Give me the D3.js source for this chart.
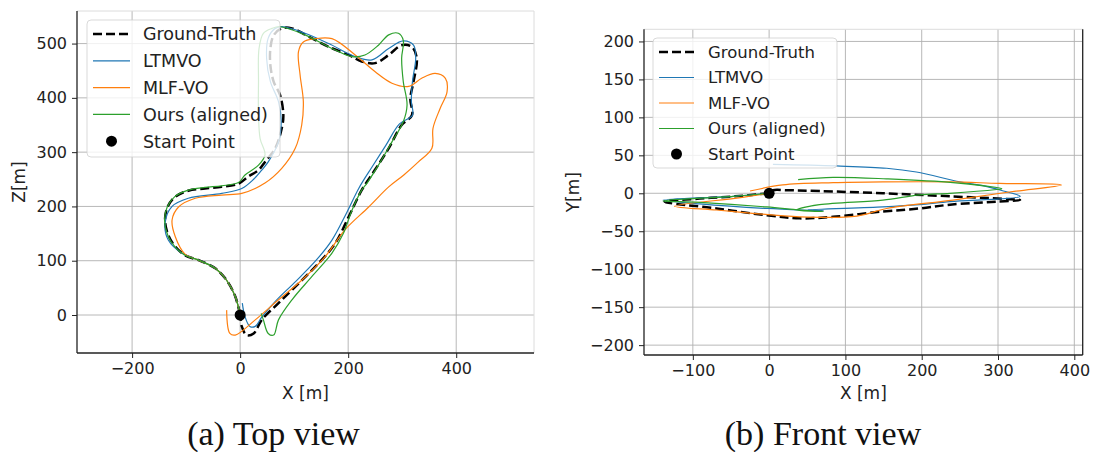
<!DOCTYPE html>
<html>
<head>
<meta charset="utf-8">
<script src="https://cdn.jsdelivr.net/npm/d3@7"></script>
<style>
  body { margin: 0; background: #fff; }
  svg text { font-family: "DejaVu Sans", sans-serif; fill: #222; }
</style>
</head>
<body>
<svg id="chart" width="1098" height="452"></svg>
<script>
// ---- series definitions ----
const seriesNames  = ["Ground-Truth", "LTMVO", "MLF-VO", "Ours (aligned)"];
const seriesColors = ["#000000", "#1f77b4", "#ff7f0e", "#2ca02c"];
const startPoint = [0, 0];

// ---- top view: [X, Z] in metres ----
const topGroundTruth = [
  [0,0],[-9,34],[-25,64],[-46,86],[-77,101],[-102,110],[-120,126],[-133,147],[-139,175],
  [-134,200],[-120,218],[-96,229],[-65,233],[-34,236],[-3,242],[15,255],[34,267],[46,282],
  [65,307],[77,344],[80,368],[74,405],[62,430],[56,460],[56,491],[62,515],[77,528],[96,528],
  [127,513],[164,494],[201,479],[225,467],[250,464],[275,479],[299,497],[318,494],[327,473],
  [321,430],[315,399],[318,368],[299,350],[275,307],[250,268],[225,230],[201,181],[176,132],
  [145,95],[108,58],[71,22],[40,-9],[25,-34],[12,-37],[3,-21],[1,-5]
];
const topLTMVO = [
  [0,0],[-9,34],[-25,64],[-46,86],[-77,101],[-108,114],[-133,138],[-139,169],[-126,200],
  [-96,215],[-34,224],[3,233],[25,250],[40,267],[52,282],[71,319],[76,356],[71,393],[56,430],
  [49,473],[52,510],[65,528],[80,531],[120,519],[164,500],[213,476],[244,470],[275,491],
  [302,505],[321,497],[325,473],[319,430],[317,393],[319,368],[295,352],[270,313],[245,274],
  [220,234],[197,188],[170,138],[140,100],[103,62],[66,26],[40,-4],[28,-21],[18,-21],[9,-3],[4,22]
];
const topMLFVO = [
  [0,0],[-9,34],[-25,64],[-46,86],[-77,101],[-102,112],[-120,144],[-126,175],[-114,199],
  [-83,215],[-34,221],[3,224],[46,243],[77,270],[102,307],[114,350],[117,393],[111,442],
  [108,485],[117,503],[139,509],[170,509],[213,479],[250,448],[281,427],[312,421],[336,436],
  [361,445],[380,436],[383,411],[370,380],[357,344],[355,307],[330,282],[303,258],[275,236],
  [238,199],[194,157],[157,107],[114,64],[71,28],[28,-9],[-9,-37],[-19,-34],[-25,9]
];
const topOurs = [
  [0,0],[-9,34],[-25,64],[-46,86],[-77,101],[-102,110],[-121,126],[-134,147],[-140,175],
  [-135,199],[-121,218],[-96,230],[-65,235],[-34,238],[-3,244],[9,258],[34,276],[46,295],
  [37,325],[34,368],[34,430],[35,491],[43,519],[59,528],[74,531],[120,516],[170,491],[207,476],
  [231,479],[256,497],[275,516],[293,519],[302,506],[299,473],[302,430],[309,387],[302,356],
  [281,319],[256,276],[235,243],[225,230],[207,193],[191,150],[170,114],[133,71],[96,28],
  [71,-9],[62,-37],[52,-34],[43,-9],[39,3]
];

// ---- front view: [X, Y] in metres ----
const frontGroundTruth = [
  [0,0],[-45,-4],[-91,-7],[-137,-11],[-69,-20],[-3,-29],[40,-33],[84,-31],[149,-24],
  [197,-20],[237,-15],[298,-11],[329,-9],[237,-4],[149,0],[66,3],[23,4],[5,4],[0,0]
];
const frontLTMVO = [
  [0,0],[-47,-4],[-139,-9],[-91,-14],[-3,-20],[71,-23],[50,-22],[149,-18],[197,-15],
  [237,-11],[329,-4],[307,3],[280,10],[250,15],[193,28],[154,33],[88,36],[5,38]
];
const frontMLFVO = [
  [0,0],[-40,-6],[-124,-17],[-69,-22],[-25,-26],[40,-31],[115,-30],[154,-20],[241,-9],
  [317,2],[383,11],[302,13],[237,15],[149,15],[84,14],[18,11],[-25,3]
];
const frontOurs = [
  [0,0],[-47,-4],[-139,-10],[-91,-12],[-3,-18],[40,-22],[71,-24],[36,-22],[66,-15],
  [149,-9],[197,-2],[237,0],[298,5],[305,6],[241,14],[154,19],[84,21],[38,18]
];

// ---- tick values ----
const topXTicks = [-200, 0, 200, 400];
const topZTicks = [0, 100, 200, 300, 400, 500];
const frontXTicks = [-100, 0, 100, 200, 300, 400];
const frontYTicks = [-200, -150, -100, -50, 0, 50, 100, 150, 200];

// ---- panel layout ----
const panels = [
  {
    id: "top", series: [topGroundTruth, topLTMVO, topMLFVO, topOurs],
    xDomain: [-302, 544], yDomain: [-70, 560],
    left: 77, right: 534, top: 11, bottom: 353,
    xTicks: topXTicks, yTicks: topZTicks,
    xLabel: "X [m]", yLabel: "Z[m]", yLabelX: 19,
    darkRight: false,
    legend: { x: 87, y: 20, w: 193, h: 137, row0: 34, rowStep: 26.8, hx0: 93, hx1: 130, tx: 143, fs: 17.5 },
    caption: "(a) Top view", captionX: 273.5
  },
  {
    id: "front", series: [frontGroundTruth, frontLTMVO, frontMLFVO, frontOurs],
    xDomain: [-164, 411], yDomain: [-213, 216],
    left: 644, right: 1082.7, top: 29.3, bottom: 355,
    xTicks: frontXTicks, yTicks: frontYTicks,
    xLabel: "X [m]", yLabel: "Y[m]", yLabelX: 573,
    darkRight: true,
    legend: { x: 653, y: 38, w: 184, h: 130, row0: 52, rowStep: 25.5, hx0: 659, hx1: 694, tx: 708, fs: 16.5 },
    caption: "(b) Front view", captionX: 823
  }
];

const svg = d3.select("#chart");
svg.append("rect").attr("width", 1098).attr("height", 452).attr("fill", "#fff");

const fmt = d => (d < 0 ? "\u2212" + Math.abs(d) : String(d));

panels.forEach(p => {
  const x = d3.scaleLinear().domain(p.xDomain).range([p.left, p.right]);
  const y = d3.scaleLinear().domain(p.yDomain).range([p.bottom, p.top]);
  const g = svg.append("g");

  // grid
  g.append("g").selectAll("line").data(p.xTicks).join("line")
    .attr("x1", d => x(d)).attr("x2", d => x(d))
    .attr("y1", p.top).attr("y2", p.bottom)
    .attr("stroke", "#b0b0b0").attr("stroke-width", 0.9);
  g.append("g").selectAll("line").data(p.yTicks).join("line")
    .attr("y1", d => y(d)).attr("y2", d => y(d))
    .attr("x1", p.left).attr("x2", p.right)
    .attr("stroke", "#b0b0b0").attr("stroke-width", 0.9);

  // clip region for trajectories
  const clipId = "clip-" + p.id;
  svg.append("clipPath").attr("id", clipId).append("rect")
    .attr("x", p.left).attr("y", p.top)
    .attr("width", p.right - p.left).attr("height", p.bottom - p.top);

  const line = d3.line().x(d => x(d[0])).y(d => y(d[1])).curve(d3.curveCatmullRom.alpha(0.5));
  const plot = g.append("g").attr("clip-path", `url(#${clipId})`);

  p.series.forEach((pts, i) => {
    plot.append("path").datum(pts)
      .attr("d", line)
      .attr("fill", "none")
      .attr("stroke", seriesColors[i])
      .attr("stroke-width", i === 0 ? 2.5 : 1.2)
      .attr("stroke-dasharray", i === 0 ? "9,4" : null)
      .attr("stroke-linejoin", "round");
  });

  plot.append("circle")
    .attr("cx", x(startPoint[0])).attr("cy", y(startPoint[1])).attr("r", 5.5)
    .attr("fill", "#000");

  // spines
  g.append("line").attr("x1", p.left).attr("x2", p.right).attr("y1", p.top).attr("y2", p.top)
    .attr("stroke", "#dcdcdc").attr("stroke-width", 1);
  g.append("line").attr("x1", p.right).attr("x2", p.right).attr("y1", p.top).attr("y2", p.bottom)
    .attr("stroke", p.darkRight ? "#222" : "#dcdcdc").attr("stroke-width", p.darkRight ? 1.3 : 1);

  // axes
  const xAxis = d3.axisBottom(x).tickValues(p.xTicks).tickFormat(fmt).tickSize(5).tickPadding(5);
  const yAxis = d3.axisLeft(y).tickValues(p.yTicks).tickFormat(fmt).tickSize(5).tickPadding(5);
  const gx = g.append("g").attr("transform", `translate(0,${p.bottom})`).call(xAxis);
  const gy = g.append("g").attr("transform", `translate(${p.left},0)`).call(yAxis);
  [gx, gy].forEach(a => {
    a.select(".domain").attr("stroke", "#222").attr("stroke-width", 1.3);
    a.selectAll(".tick line").attr("stroke", "#222").attr("stroke-width", 1);
    a.selectAll(".tick text").attr("font-size", 16).attr("fill", "#222")
      .attr("font-family", "DejaVu Sans, sans-serif");
  });
  gx.select(".domain").attr("d", `M${p.left},0H${p.right}`);
  gy.select(".domain").attr("d", `M0,${p.bottom}V${p.top}`);

  // axis labels
  g.append("text").attr("x", (p.left + p.right) / 2).attr("y", 399)
    .attr("text-anchor", "middle").attr("font-size", 17).text(p.xLabel);
  const yc = (p.top + p.bottom) / 2;
  g.append("text").attr("transform", `translate(${p.yLabelX + 6},${yc}) rotate(-90)`)
    .attr("text-anchor", "middle").attr("font-size", 17).text(p.yLabel);

  // legend
  const L = p.legend;
  const lg = g.append("g");
  lg.append("rect").attr("x", L.x).attr("y", L.y).attr("width", L.w).attr("height", L.h)
    .attr("rx", 4).attr("fill", "#fff").attr("fill-opacity", 0.8)
    .attr("stroke", "#d0d0d0").attr("stroke-opacity", 0.8);
  const entries = seriesNames.concat(["Start Point"]);
  entries.forEach((name, i) => {
    const ry = L.row0 + i * L.rowStep;
    if (i < seriesNames.length) {
      lg.append("line").attr("x1", L.hx0).attr("x2", L.hx1).attr("y1", ry).attr("y2", ry)
        .attr("stroke", seriesColors[i]).attr("stroke-width", i === 0 ? 2.5 : 1.2)
        .attr("stroke-dasharray", i === 0 ? "9,4" : null);
    } else {
      lg.append("circle").attr("cx", (L.hx0 + L.hx1) / 2).attr("cy", ry).attr("r", 5.5).attr("fill", "#000");
    }
    lg.append("text").attr("x", L.tx).attr("y", ry).attr("dy", "0.36em")
      .attr("font-size", L.fs).text(name);
  });

  // caption
  svg.append("text").attr("x", p.captionX).attr("y", 445).attr("text-anchor", "middle")
    .style("font-family", "'Liberation Serif', serif").style("fill", "#111")
    .attr("font-size", 34).text(p.caption);
});
</script>
</body>
</html>
